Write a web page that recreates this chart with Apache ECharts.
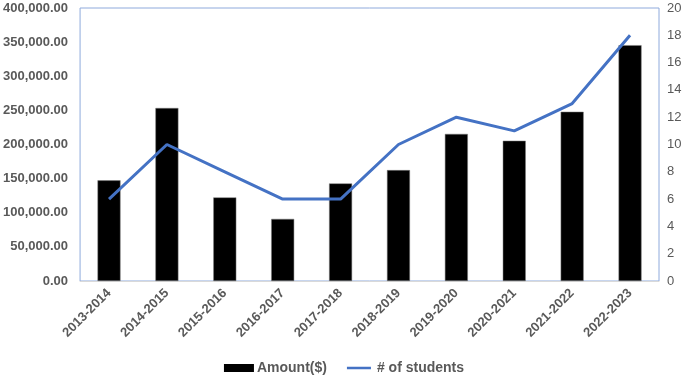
<!DOCTYPE html>
<html>
<head>
    <meta charset="utf-8">
    <title>amount and students</title>
    <script src="https://cdn.jsdelivr.net/npm/echarts@6/dist/echarts.min.js"></script>
</head>
<body style="margin:0;">
   <div id="main" style="width:688px;height:382px;"></div>

<script type="text/javascript">
// data
var years = ['2013-2014','2014-2015','2015-2016','2016-2017','2017-2018','2018-2019','2019-2020','2020-2021','2021-2022','2022-2023'];
var amount = [147500, 253500, 122500, 91000, 143000, 162500, 215500, 205500, 248000, 345500];
var students = [6, 10, 8, 6, 6, 10, 12, 11, 13, 18];

var myChart = echarts.init(document.getElementById('main'));

var labelGray = '#595959';
var fontFam = '"Liberation Sans", Arial, sans-serif';

myChart.setOption({
    animation: false,
    grid: {
        left: 78,
        right: 29,
        top: 8,
        bottom: 101,
        show: true,
        borderColor: '#8FAADC',
        borderWidth: 1
    },
    legend: {
        bottom: 2,
        left: 'center',
        itemGap: 20,
        itemWidth: 30,
        itemHeight: 8,
        data: [
            {name: 'Amount($)', icon: 'rect', itemStyle: {color: '#000', borderWidth: 0}},
            // flat line icon, no marker
            {name: '# of students', icon: 'path://M0,0h0.01v10h-0.01zM0,3.5h30v3h-30z', itemStyle: {color: '#4472C4'}}
        ],
        textStyle: {color: labelGray, fontWeight: 'bold', fontSize: 14, fontFamily: fontFam, padding: [0, 0, 0, -2]}
    },
    xAxis: {
        type: 'category',
        data: years,
        axisLine: {lineStyle: {color: '#D9D9D9', width: 1}},
        axisTick: {show: false},
        axisLabel: {
            rotate: 45,
            interval: 0,
            color: labelGray,
            fontWeight: 'bold',
            fontSize: 13,
            fontFamily: fontFam,
            margin: 10
        }
    },
    yAxis: [
        {
            type: 'value',
            min: 0,
            max: 400000,
            interval: 50000,
            splitLine: {show: false},
            axisLine: {show: false},
            axisLabel: {
                color: labelGray,
                fontWeight: 'bold',
                fontSize: 13,
                fontFamily: fontFam,
                margin: 12,
                formatter: function (v) {
                    return v.toLocaleString('en-US', {minimumFractionDigits: 2, maximumFractionDigits: 2});
                }
            }
        },
        {
            type: 'value',
            min: 0,
            max: 20,
            interval: 2,
            splitLine: {show: false},
            axisLine: {show: false},
            axisLabel: {
                color: labelGray,
                fontSize: 13,
                fontFamily: fontFam,
                margin: 8
            }
        }
    ],
    series: [
        {
            name: 'Amount($)',
            type: 'bar',
            data: amount,
            barWidth: 23,
            itemStyle: {color: '#000000', borderColor: '#7f7f7f', borderWidth: 0.5}
        },
        {
            name: '# of students',
            type: 'line',
            yAxisIndex: 1,
            data: students,
            symbol: 'none',
            lineStyle: {color: '#4472C4', width: 3},
            itemStyle: {color: '#4472C4'}
        }
    ]
});
</script>
</body>
</html>
